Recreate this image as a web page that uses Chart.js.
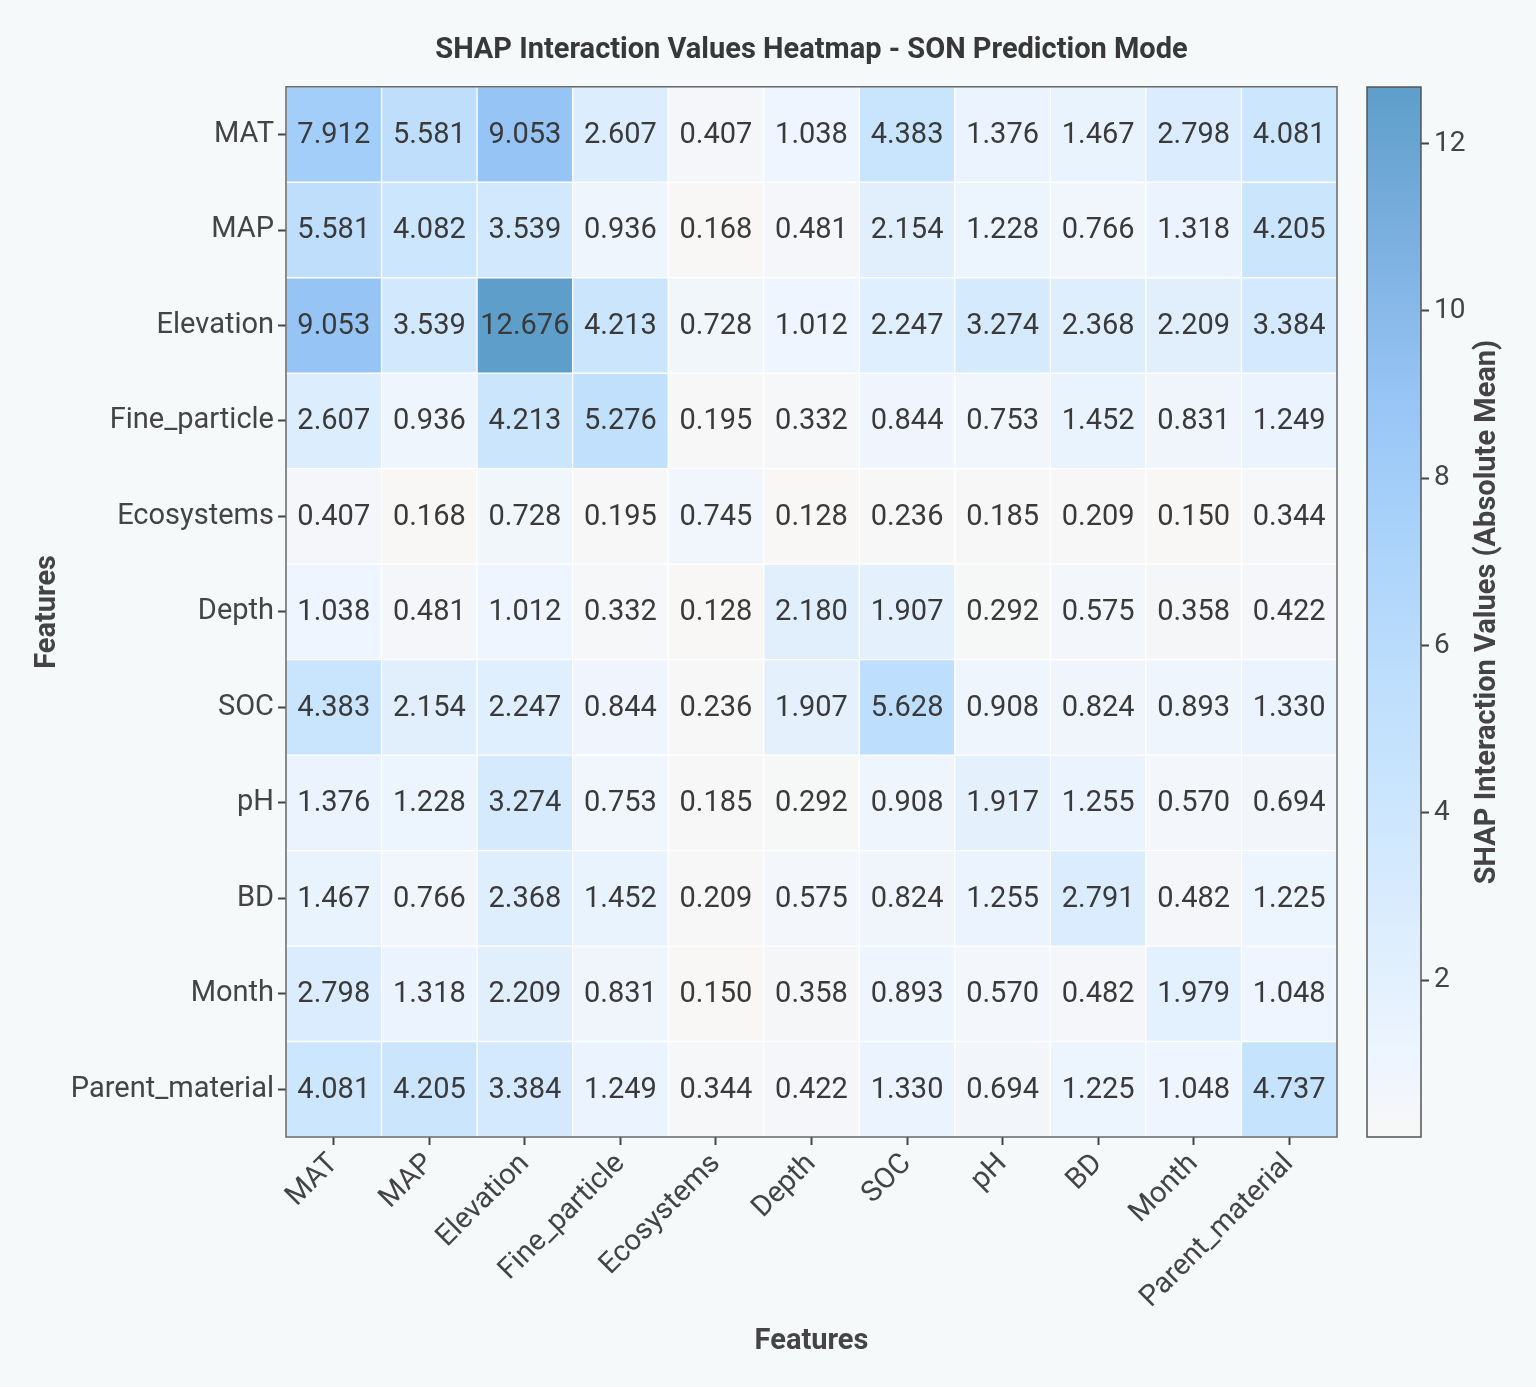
<!DOCTYPE html>
<html>
<head>
<meta charset="utf-8">
<script src="https://cdn.jsdelivr.net/npm/chart.js@4.4.1/dist/chart.umd.min.js"></script>
<style>
  body { margin: 0; background: #f6f9f9; }
  #wrap { position: relative; width: 1536px; height: 1387px; }
  #heat { position: absolute; left: 0; top: 0; }
  #cbar { position: absolute; left: 1340px; top: 0; }
</style>
</head>
<body>
<div id="wrap">
  <canvas id="heat" width="1536" height="1387"></canvas>
  <canvas id="cbar" width="196" height="1387"></canvas>
</div>
<script>
const features = ["MAT", "MAP", "Elevation", "Fine_particle", "Ecosystems", "Depth",
                  "SOC", "pH", "BD", "Month", "Parent_material"];

// one array per row, same order as features
const rowMAT = [7.912, 5.581, 9.053, 2.607, 0.407, 1.038, 4.383, 1.376, 1.467, 2.798, 4.081];
const rowMAP = [5.581, 4.082, 3.539, 0.936, 0.168, 0.481, 2.154, 1.228, 0.766, 1.318, 4.205];
const rowElevation = [9.053, 3.539, 12.676, 4.213, 0.728, 1.012, 2.247, 3.274, 2.368, 2.209, 3.384];
const rowFine = [2.607, 0.936, 4.213, 5.276, 0.195, 0.332, 0.844, 0.753, 1.452, 0.831, 1.249];
const rowEco = [0.407, 0.168, 0.728, 0.195, 0.745, 0.128, 0.236, 0.185, 0.209, 0.150, 0.344];
const rowDepth = [1.038, 0.481, 1.012, 0.332, 0.128, 2.180, 1.907, 0.292, 0.575, 0.358, 0.422];
const rowSOC = [4.383, 2.154, 2.247, 0.844, 0.236, 1.907, 5.628, 0.908, 0.824, 0.893, 1.330];
const rowPH = [1.376, 1.228, 3.274, 0.753, 0.185, 0.292, 0.908, 1.917, 1.255, 0.570, 0.694];
const rowBD = [1.467, 0.766, 2.368, 1.452, 0.209, 0.575, 0.824, 1.255, 2.791, 0.482, 1.225];
const rowMonth = [2.798, 1.318, 2.209, 0.831, 0.150, 0.358, 0.893, 0.570, 0.482, 1.979, 1.048];
const rowParent = [4.081, 4.205, 3.384, 1.249, 0.344, 0.422, 1.330, 0.694, 1.225, 1.048, 4.737];
const rows = [rowMAT, rowMAP, rowElevation, rowFine, rowEco, rowDepth, rowSOC, rowPH, rowBD, rowMonth, rowParent];

const cbarTicks = [2, 4, 6, 8, 10, 12];

const vMin = Math.min(...rows.flat());
const vMax = Math.max(...rows.flat());

// colormap stops: light grey -> pale blue -> steel blue
const cmap = [
  [0.00, [248, 247, 246]],
  [0.07, [238, 245, 254]],
  [0.20, [220, 237, 253]],
  [0.33, [202, 229, 253]],
  [0.44, [189, 222, 252]],
  [0.62, [163, 206, 249]],
  [0.71, [150, 196, 244]],
  [0.85, [124, 176, 225]],
  [1.00, [94, 158, 202]]
];
function colorFor(v) {
  let t = (v - vMin) / (vMax - vMin);
  t = Math.max(0, Math.min(1, t));
  for (let i = 1; i < cmap.length; i++) {
    if (t <= cmap[i][0]) {
      const [t0, c0] = cmap[i - 1], [t1, c1] = cmap[i];
      const f = (t - t0) / (t1 - t0);
      const c = c0.map((a, k) => Math.round(a + (c1[k] - a) * f));
      return `rgb(${c[0]},${c[1]},${c[2]})`;
    }
  }
  return "rgb(94,158,202)";
}

Chart.defaults.font.family = "Roboto, 'Noto Sans', sans-serif";
Chart.defaults.color = "#444";

// every row is a dataset of floating bars spanning [r, r+1] on the y scale
const datasets = rows.map((row, r) => ({
  label: features[r],
  data: row.map(() => [r, r + 1]),
  backgroundColor: row.map(colorFor),
  borderColor: "rgba(255,255,255,0.85)",
  borderWidth: 1,
  borderSkipped: false,
  barPercentage: 1,
  categoryPercentage: 1,
  grouped: false
}));

const cellText = {
  id: "cellText",
  afterDatasetsDraw(chart) {
    const ctx = chart.ctx;
    const x = chart.scales.x, y = chart.scales.y;
    ctx.save();
    ctx.font = "29px Roboto";
    ctx.fillStyle = "#3a3a3a";
    ctx.textAlign = "center";
    ctx.textBaseline = "middle";
    rows.forEach((row, r) => {
      row.forEach((v, c) => {
        ctx.fillText(v.toFixed(3), x.getPixelForValue(c), y.getPixelForValue(r + 0.5) + 1);
      });
    });
    const a = chart.chartArea;
    ctx.strokeStyle = "#666";
    ctx.lineWidth = 1.5;
    ctx.strokeRect(a.left, a.top, a.right - a.left, a.bottom - a.top);
    ctx.restore();
  }
};

new Chart(document.getElementById("heat"), {
  type: "bar",
  data: { labels: features, datasets },
  options: {
    responsive: false,
    animation: false,
    layout: { padding: { left: 20, right: 199, top: 0, bottom: 18 } },
    plugins: {
      legend: { display: false },
      tooltip: { enabled: false },
      title: {
        display: true,
        fullSize: false,
        text: "SHAP Interaction Values Heatmap - SON Prediction Mode",
        color: "#383838",
        font: { size: 29, weight: "bold" },
        padding: { top: 33, bottom: 19 }
      }
    },
    scales: {
      x: {
        offset: true,
        grid: { offset: false, drawOnChartArea: false, tickLength: 8, tickWidth: 2, tickColor: "#444" },
        border: { display: false },
        ticks: { font: { size: 29 }, color: "#444", maxRotation: 45, minRotation: 45, padding: 2 },
        title: { display: true, text: "Features", color: "#444", font: { size: 29, weight: "bold" }, padding: { top: 0, bottom: 10 } },
        afterFit(s) { s.height = 232; }
      },
      y: {
        type: "linear",
        min: 0,
        max: features.length,
        reverse: true,
        afterBuildTicks(s) { s.ticks = features.map((f, i) => ({ value: i + 0.5 })); },
        grid: { drawOnChartArea: false, tickLength: 8, tickWidth: 2, tickColor: "#444" },
        border: { display: false },
        ticks: {
          font: { size: 29 },
          color: "#444",
          padding: 4,
          callback: (v) => features[Math.floor(v)]
        },
        title: { display: true, text: "Features", color: "#444", font: { size: 29, weight: "bold" }, padding: { top: 10, bottom: 0 } },
        afterFit(s) { s.width = 266; }
      }
    }
  },
  plugins: [cellText]
});

// colour bar
const cbarDeco = {
  id: "cbarDeco",
  afterDraw(chart) {
    const ctx = chart.ctx, a = chart.chartArea;
    ctx.save();
    ctx.strokeStyle = "#555";
    ctx.lineWidth = 1.5;
    ctx.strokeRect(a.left, a.top, a.right - a.left, a.bottom - a.top);
    ctx.translate(148, (a.top + a.bottom) / 2);
    ctx.rotate(-Math.PI / 2);
    ctx.font = "bold 29px Roboto";
    ctx.fillStyle = "#444";
    ctx.textAlign = "center";
    ctx.textBaseline = "middle";
    ctx.fillText("SHAP Interaction Values (Absolute Mean)", 0, 0);
    ctx.restore();
  }
};

new Chart(document.getElementById("cbar"), {
  type: "bar",
  data: {
    labels: ["scale"],
    datasets: [{
      data: [[vMin, vMax]],
      barPercentage: 1,
      categoryPercentage: 1,
      borderWidth: 0,
      backgroundColor(c) {
        const area = c.chart.chartArea;
        if (!area) return "#ccc";
        const g = c.chart.ctx.createLinearGradient(0, area.bottom, 0, area.top);
        cmap.forEach(([t, rgb]) => g.addColorStop(t, `rgb(${rgb[0]},${rgb[1]},${rgb[2]})`));
        return g;
      }
    }]
  },
  options: {
    responsive: false,
    animation: false,
    layout: { padding: { left: 27, right: 20, top: 87, bottom: 250 } },
    plugins: { legend: { display: false }, tooltip: { enabled: false } },
    scales: {
      x: { display: false },
      y: {
        position: "right",
        min: vMin,
        max: vMax,
        afterBuildTicks(s) { s.ticks = cbarTicks.map(v => ({ value: v })); },
        grid: { drawOnChartArea: false, tickLength: 8, tickWidth: 2, tickColor: "#444" },
        border: { display: false },
        ticks: { font: { size: 28 }, color: "#444", padding: 5 },
        afterFit(s) { s.width = 95; }
      }
    }
  },
  plugins: [cbarDeco]
});
</script>
</body>
</html>
